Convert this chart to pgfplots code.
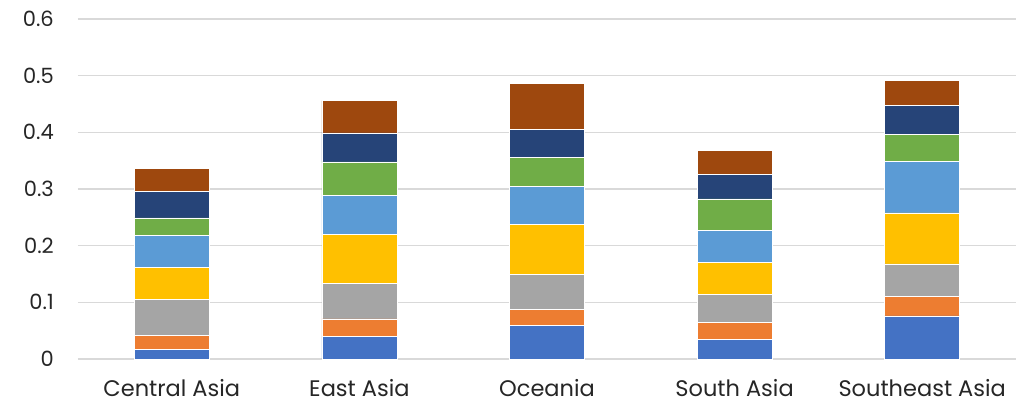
\documentclass[border=0pt]{standalone}
\usepackage{pgfplots}
\usepackage{pgfplotstable}
\pgfplotsset{compat=1.18}
\usepackage{fontspec}
\setmainfont{Poppins}

\definecolor{sBlue}{HTML}{4472C4}
\definecolor{sOrange}{HTML}{ED7D31}
\definecolor{sGray}{HTML}{A5A5A5}
\definecolor{sYellow}{HTML}{FFC000}
\definecolor{sLightBlue}{HTML}{5B9BD5}
\definecolor{sGreen}{HTML}{70AD47}
\definecolor{sNavy}{HTML}{264478}
\definecolor{sBrown}{HTML}{9E480E}
\definecolor{gridgray}{HTML}{D9D9D9}

% region index, then the eight stacked components from bottom to top
\pgfplotstableread{
x   a      b      c       d      e      f      g      h
0   0.017  0.025  0.063   0.057  0.056  0.031  0.047  0.040
1   0.040  0.031  0.062   0.087  0.069  0.059  0.051  0.057
2   0.059  0.029  0.061   0.089  0.066  0.052  0.049  0.082
3   0.035  0.029  0.0495  0.057  0.056  0.056  0.043  0.042
4   0.076  0.034  0.058   0.090  0.091  0.048  0.051  0.044
}\regiondata

\begin{document}
\begin{tikzpicture}[x=1pt,y=1pt]
\begin{axis}[
  at={(0pt,0pt)}, anchor=south west,
  scale only axis,
  width=938pt, height=340pt,
  ybar stacked,
  bar width=0.4,
  xmin=-0.5, xmax=4.5,
  ymin=0, ymax=0.6,
  ytick={0,0.1,...,0.6},
  xtick=data,
  xticklabels={Central Asia,East Asia,Oceania,South Asia,Southeast Asia},
  ymajorgrids,
  grid style={gridgray, line width=1.5pt},
  axis line style={draw=none},
  major tick length=0pt,
  tick style={draw=none},
  /pgf/number format/assume math mode=true,
  /pgf/number format/fixed,
  /pgf/number format/precision=1,
  tick label style={text=black!85},
  yticklabel style={font=\fontsize{21}{25}\selectfont, anchor=east, inner sep=0pt, xshift=-24pt},
  xticklabel style={font=\fontsize{22.5}{27}\selectfont, anchor=base, inner sep=0pt, yshift=-38pt},
  every axis plot/.append style={draw=white, line width=0.5pt},
  clip=false,
]
\addplot[fill=sBlue]      table[x=x,y=a] {\regiondata};
\addplot[fill=sOrange]    table[x=x,y=b] {\regiondata};
\addplot[fill=sGray]      table[x=x,y=c] {\regiondata};
\addplot[fill=sYellow]    table[x=x,y=d] {\regiondata};
\addplot[fill=sLightBlue] table[x=x,y=e] {\regiondata};
\addplot[fill=sGreen]     table[x=x,y=f] {\regiondata};
\addplot[fill=sNavy]      table[x=x,y=g] {\regiondata};
\addplot[fill=sBrown]     table[x=x,y=h] {\regiondata};
\end{axis}
\pgfresetboundingbox
\path[use as bounding box] (-78pt,-44pt) rectangle (944pt,359pt);
\end{tikzpicture}
\end{document}
